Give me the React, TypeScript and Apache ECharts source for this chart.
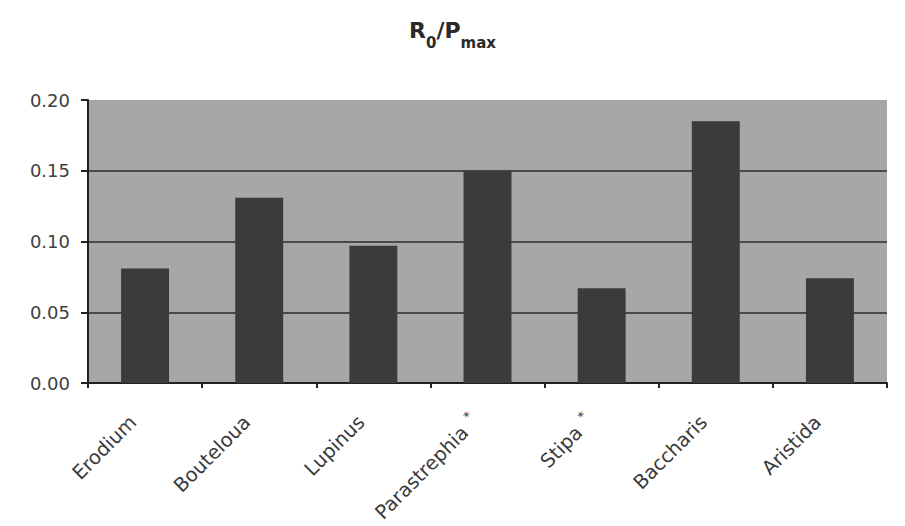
import React, { useEffect, useRef } from "react";
import * as echarts from "echarts";

const categories = ["Erodium", "Bouteloua", "Lupinus", "Parastrephia *", "Stipa *", "Baccharis", "Aristida"];
const values = [0.081, 0.131, 0.097, 0.150, 0.067, 0.185, 0.074];
const yTicks = [0, 0.05, 0.1, 0.15, 0.2];

const FONT = "DejaVu Sans, Verdana, sans-serif";

export default function App() {
  const ref = useRef<HTMLDivElement>(null);
  useEffect(() => {
    if (!ref.current) return;
    const chart = echarts.init(ref.current, null, { renderer: "svg" });
    chart.setOption({
      animation: false,
      backgroundColor: "#ffffff",
      title: {
        text: "{b|R}{s|0}{b|/P}{s|max}",
        left: 404,
        top: 8,
        textStyle: {
          rich: {
            b: { fontFamily: FONT, fontWeight: "bold", fontSize: 22, color: "#2a2a2a", lineHeight: 28, verticalAlign: "bottom" },
            s: { fontFamily: FONT, fontWeight: "bold", fontSize: 15, color: "#2a2a2a", lineHeight: 20, verticalAlign: "bottom", padding: [0, 0, -9, 0] },
          },
        },
      },
      grid: {
        left: 88,
        right: 18,
        top: 100,
        bottom: 143,
        show: true,
        backgroundColor: "#a7a7a9",
        borderWidth: 0,
      },
      xAxis: {
        type: "category",
        data: categories,
        axisLine: { show: true, lineStyle: { color: "#222", width: 2 } },
        axisTick: { show: true, alignWithLabel: false, length: 5, lineStyle: { color: "#222", width: 2 } },
        axisLabel: {
          rotate: 45,
          margin: 24,
          fontFamily: FONT,
          fontSize: 19.5,
          color: "#3a3a3a",
          interval: 0,
          formatter: (v: string) => {
            if (v.endsWith(" *")) return "{n|" + v.slice(0, -2) + "}{a|  *}{p|}";
            return "{n|" + v + "}{p|}";
          },
          rich: {
            n: { fontFamily: FONT, fontSize: 19.5, color: "#3a3a3a" },
            a: { fontFamily: FONT, fontSize: 13, color: "#3a3a3a", verticalAlign: "top", padding: [0, 0, 15, 0] },
            p: { width: 17 },
          },
        },
      },
      yAxis: {
        type: "value",
        min: 0,
        max: 0.2,
        interval: 0.05,
        axisLine: { show: true, lineStyle: { color: "#222", width: 2 } },
        axisTick: { show: true, length: 7, lineStyle: { color: "#222", width: 2 } },
        axisLabel: {
          fontFamily: FONT,
          fontSize: 18,
          color: "#404040",
          margin: 18,
          formatter: (v: number) => {
            const t = yTicks.find((x) => Math.abs(x - v) < 1e-9);
            return (t ?? v).toFixed(2);
          },
        },
        splitLine: { show: true, showMaxLine: false, showMinLine: false, lineStyle: { color: "#4a4a4a", width: 2 } },
      },
      series: [
        {
          type: "bar",
          data: values,
          barWidth: "42%",
          itemStyle: { color: "#3b3b3b" },
        },
      ],
    });
    return () => chart.dispose();
  }, []);
  return <div ref={ref} style={{ width: 905, height: 526, position: "absolute", left: 0, top: 0 }} />;
}
